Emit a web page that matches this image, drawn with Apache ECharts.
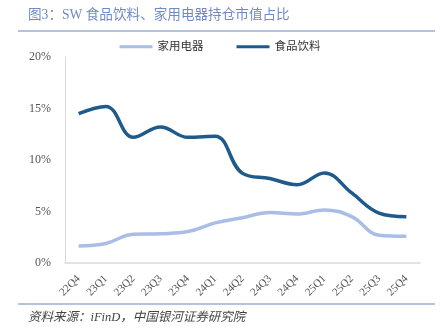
<!DOCTYPE html>
<html><head><meta charset="utf-8">
<script src="https://cdn.jsdelivr.net/npm/echarts@6/dist/echarts.min.js"></script>
<style>html,body{margin:0;padding:0;background:#fff}#c{width:440px;height:336px}</style>
</head><body><div id="c"></div>
<script>
const categories = ['22Q4','23Q1','23Q2','23Q3','23Q4','24Q1','24Q2','24Q3','24Q4','25Q1','25Q2','25Q3','25Q4'];
const homeAppliances = [1.65, 1.9, 2.8, 2.85, 3.05, 3.9, 4.4, 4.9, 4.75, 5.15, 4.5, 2.7, 2.6];
const foodBeverage = [14.5, 15.2, 12.2, 13.2, 12.2, 12.3, 8.7, 8.2, 7.6, 8.75, 6.8, 4.85, 4.5];
const yTicks = [0, 5, 10, 15, 20];
const titleText = '图3：SW 食品饮料、家用电器持仓市值占比';
const sourceText = '资料来源：iFinD，中国银河证券研究院';

const chart = echarts.init(document.getElementById('c'));
const serifCJK = '"Liberation Serif","Noto Sans CJK SC",serif';
chart.setOption({
  animation: false,
  grid: {left: 65, right: 20, top: 57, bottom: 73},
  legend: {
    top: 36, left: 'center',
    itemWidth: 33, itemHeight: 3, itemGap: 33,
    icon: 'rect',
    textStyle: {fontSize: 11.5, color: '#333', fontFamily: serifCJK},
    data: ['家用电器', '食品饮料']
  },
  graphic: [
    {type: 'text', left: 28, top: 9, style: {text: titleText, fill: '#6f8ac4', font: '13.6px "Liberation Serif","Noto Sans CJK SC",serif'}},
    {type: 'line', shape: {x1: 18, y1: 31, x2: 435, y2: 31}, style: {stroke: '#6a86bf', lineWidth: 1.2}},
    {type: 'line', shape: {x1: 18, y1: 304, x2: 435, y2: 304}, style: {stroke: '#6a86bf', lineWidth: 1.2}},
    {type: 'text', left: 28, top: 311, style: {text: sourceText, fill: '#444', font: 'italic 12.5px "Liberation Serif","Noto Sans CJK SC",serif'}}
  ],
  xAxis: {
    type: 'category', data: categories, boundaryGap: true,
    axisLine: {lineStyle: {color: '#d9d9d9', width: 1.5}},
    axisTick: {show: false},
    axisLabel: {rotate: 45, color: '#555', fontSize: 11, fontFamily: '"Liberation Serif",serif', margin: 14, interval: 0}
  },
  yAxis: {
    type: 'value', min: yTicks[0], max: yTicks[yTicks.length-1], interval: 5,
    axisLine: {show: true, lineStyle: {color: '#d9d9d9', width: 1}},
    axisTick: {show: false},
    splitLine: {show: false},
    axisLabel: {formatter: v => v + '%', color: '#555', fontSize: 12, fontFamily: '"Liberation Serif",serif', margin: 14}
  },
  series: [
    {name: '家用电器', type: 'line', data: homeAppliances, smooth: 0.4, showSymbol: false,
     lineStyle: {color: '#a9bde6', width: 3.5}, itemStyle: {color: '#a9bde6'}},
    {name: '食品饮料', type: 'line', data: foodBeverage, smooth: 0.4, showSymbol: false,
     lineStyle: {color: '#1f5a8c', width: 3.5}, itemStyle: {color: '#1f5a8c'}}
  ]
});
</script></body></html>
